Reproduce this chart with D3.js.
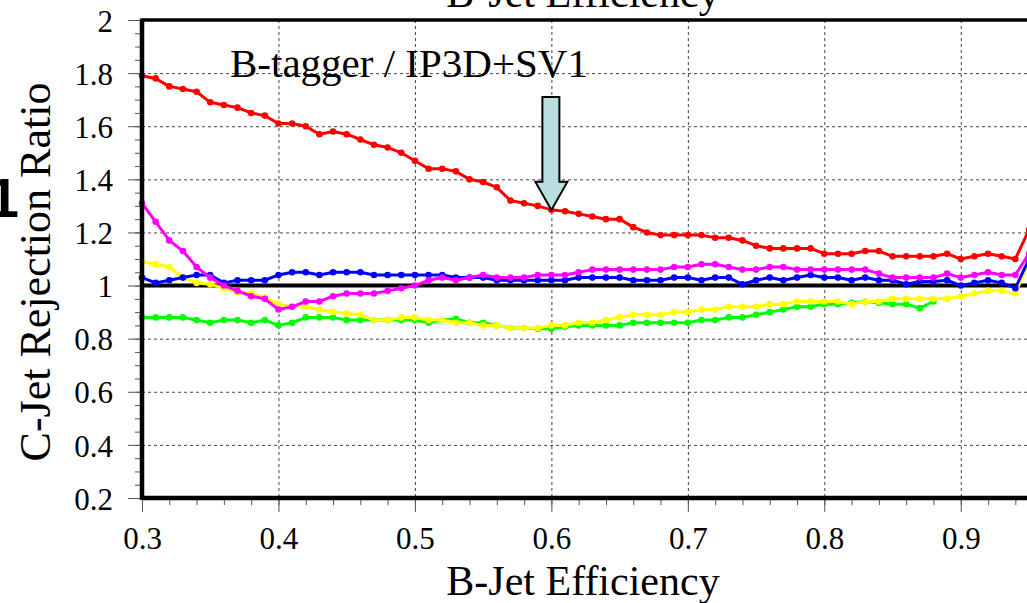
<!DOCTYPE html>
<html>
<head>
<meta charset="utf-8">
<script src="https://d3js.org/d3.v7.min.js"></script>
<style>
    body { margin: 0; background: #fff; }
    #chart-area svg { display: block; }
    #chart-area text { font-family: "Liberation Serif", "Times New Roman", serif; }
    #chart-area text.sans { font-family: "Liberation Sans", Arial, sans-serif; }
</style>
</head>
<body>
<div id="chart-area"></div>
<script>

// b-jet efficiency points (x)
let efficiency = [0.30, 0.31, 0.32, 0.33, 0.34, 0.35, 0.36, 0.37, 0.38, 0.39,
    0.40, 0.41, 0.42, 0.43, 0.44, 0.45, 0.46, 0.47, 0.48, 0.49,
    0.50, 0.51, 0.52, 0.53, 0.54, 0.55, 0.56, 0.57, 0.58, 0.59,
    0.60, 0.61, 0.62, 0.63, 0.64, 0.65, 0.66, 0.67, 0.68, 0.69,
    0.70, 0.71, 0.72, 0.73, 0.74, 0.75, 0.76, 0.77, 0.78, 0.79,
    0.80, 0.81, 0.82, 0.83, 0.84, 0.85, 0.86, 0.87, 0.88, 0.89,
    0.90, 0.91, 0.92, 0.93, 0.94, 0.95];

// c-jet rejection ratios, one list per curve
let redRatio = [1.79, 1.78, 1.75, 1.74, 1.73, 1.69, 1.68, 1.67, 1.65, 1.64,
    1.61, 1.61, 1.60, 1.57, 1.58, 1.57, 1.55, 1.53, 1.52, 1.50,
    1.47, 1.44, 1.44, 1.43, 1.40, 1.39, 1.37, 1.32, 1.31, 1.30,
    1.285, 1.28, 1.27, 1.26, 1.25, 1.25, 1.22, 1.20, 1.19, 1.19,
    1.19, 1.19, 1.18, 1.18, 1.17, 1.15, 1.14, 1.14, 1.14, 1.14,
    1.12, 1.12, 1.12, 1.13, 1.13, 1.11, 1.11, 1.11, 1.11, 1.12,
    1.10, 1.11, 1.12, 1.11, 1.10, 1.21];

let magentaRatio = [1.31, 1.24, 1.17, 1.13, 1.07, 1.03, 1.00, 0.98, 0.96, 0.95,
    0.91, 0.92, 0.94, 0.94, 0.96, 0.97, 0.97, 0.97, 0.98, 0.99,
    1.00, 1.02, 1.03, 1.02, 1.03, 1.04, 1.03, 1.03, 1.03, 1.04,
    1.04, 1.04, 1.05, 1.06, 1.06, 1.06, 1.06, 1.06, 1.06, 1.07,
    1.07, 1.08, 1.08, 1.07, 1.06, 1.06, 1.07, 1.07, 1.06, 1.06,
    1.06, 1.06, 1.06, 1.06, 1.045, 1.03, 1.03, 1.03, 1.03, 1.045,
    1.03, 1.04, 1.05, 1.04, 1.04, 1.12];

let blueRatio = [1.03, 1.01, 1.02, 1.03, 1.04, 1.04, 1.01, 1.02, 1.02, 1.02,
    1.04, 1.05, 1.05, 1.04, 1.05, 1.05, 1.05, 1.04, 1.04, 1.04,
    1.04, 1.04, 1.04, 1.03, 1.03, 1.03, 1.02, 1.02, 1.02, 1.02,
    1.02, 1.02, 1.03, 1.03, 1.03, 1.03, 1.02, 1.02, 1.02, 1.03,
    1.03, 1.02, 1.03, 1.03, 1.005, 1.02, 1.03, 1.02, 1.03, 1.04,
    1.03, 1.03, 1.02, 1.03, 1.02, 1.02, 1.005, 1.015, 1.015, 1.02,
    1.00, 1.01, 1.02, 1.01, 0.99, 1.10];

let yellowRatio = [1.09, 1.08, 1.07, 1.03, 1.01, 1.005, 0.99, 0.975, 0.97, 0.955,
    0.93, 0.92, 0.92, 0.91, 0.90, 0.895, 0.89, 0.87, 0.87, 0.88,
    0.88, 0.87, 0.87, 0.86, 0.86, 0.85, 0.85, 0.84, 0.84, 0.84,
    0.85, 0.85, 0.86, 0.86, 0.87, 0.88, 0.89, 0.89, 0.89, 0.90,
    0.90, 0.91, 0.91, 0.92, 0.92, 0.92, 0.93, 0.93, 0.94, 0.94,
    0.94, 0.94, 0.93, 0.94, 0.94, 0.95, 0.95, 0.95, 0.95, 0.95,
    0.96, 0.97, 0.98, 0.98, 0.97, 1.09];

// green stops at 0.88
let greenRatio = [0.88, 0.88, 0.88, 0.88, 0.87, 0.86, 0.87, 0.87, 0.86, 0.87,
    0.85, 0.86, 0.88, 0.88, 0.88, 0.87, 0.87, 0.87, 0.87, 0.87,
    0.87, 0.86, 0.87, 0.875, 0.86, 0.86, 0.85, 0.84, 0.84, 0.837,
    0.837, 0.845, 0.85, 0.85, 0.85, 0.85, 0.86, 0.86, 0.86, 0.86,
    0.86, 0.87, 0.87, 0.88, 0.88, 0.89, 0.90, 0.91, 0.92, 0.92,
    0.93, 0.93, 0.935, 0.94, 0.935, 0.93, 0.93, 0.915, 0.94];

let seriesNames = ["green", "yellow", "blue", "magenta", "red"];
let seriesValues = [greenRatio, yellowRatio, blueRatio, magentaRatio, redRatio];

let xTicks = [0.3, 0.4, 0.5, 0.6, 0.7, 0.8, 0.9];
let yTicks = [0.2, 0.4, 0.6, 0.8, 1, 1.2, 1.4, 1.6, 1.8, 2];

let annotationText = "B-tagger / IP3D+SV1";
let arrowAt = 0.60;


class RatioVis {
    constructor(parentElement) {
        this.parentElement = parentElement;
        this.initVis();
    }

    initVis() {
        let vis = this;

        vis.width = 1027;
        vis.height = 603;
        vis.margin = {top: 20, right: -2, bottom: 105, left: 142};

        vis.svg = d3.select("#" + vis.parentElement).append("svg")
            .attr("width", vis.width)
            .attr("height", vis.height);

        vis.x = d3.scaleLinear()
            .domain([0.3, 0.95])
            .range([vis.margin.left, vis.width - vis.margin.right]);

        vis.y = d3.scaleLinear()
            .domain([0.2, 2])
            .range([vis.height - vis.margin.bottom, vis.margin.top]);

        vis.colors = d3.scaleOrdinal()
            .domain(seriesNames)
            .range(["#00ff00", "#ffff00", "#0000ff", "#ff00ff", "#ff0000"]);

        vis.wrangleData();
    }

    wrangleData() {
        let vis = this;

        vis.displayData = seriesNames.map((name, i) => ({
            name: name,
            values: seriesValues[i].map((v, j) => ({eff: efficiency[j], ratio: v}))
        }));

        vis.updateVis();
    }

    updateVis() {
        let vis = this;
        let x0 = vis.x.range()[0], x1 = vis.x.range()[1];
        let y0 = vis.y.range()[0], y1 = vis.y.range()[1];

        // dashed grid
        vis.svg.append("g")
            .attr("class", "grid-x")
            .attr("transform", `translate(0, ${y1})`)
            .call(d3.axisBottom(vis.x)
                .tickValues(xTicks.filter(d => d > 0.3))
                .tickSize(y0 - y1)
                .tickFormat(""))
            .call(g => g.select(".domain").remove())
            .selectAll("line")
            .attr("stroke", "#444")
            .attr("stroke-dasharray", "3,3");

        vis.svg.append("g")
            .attr("class", "grid-y")
            .attr("transform", `translate(${x0}, 0)`)
            .call(d3.axisRight(vis.y)
                .tickValues(yTicks.filter(d => d !== 1 && d !== 2 && d !== 0.2))
                .tickSize(x1 - x0)
                .tickFormat(""))
            .call(g => g.select(".domain").remove())
            .selectAll("line")
            .attr("stroke", "#444")
            .attr("stroke-dasharray", "3,3");

        // minor ticks
        vis.svg.append("g")
            .attr("transform", `translate(${x0}, 0)`)
            .call(d3.axisLeft(vis.y).ticks(36).tickSize(7).tickFormat(""))
            .call(g => g.select(".domain").remove())
            .selectAll("line").attr("stroke", "#555");

        vis.svg.append("g")
            .attr("transform", `translate(0, ${y0})`)
            .call(d3.axisBottom(vis.x).tickValues(d3.range(30, 96, 2).map(d => d / 100)).tickSize(7).tickFormat(""))
            .call(g => g.select(".domain").remove())
            .selectAll("line").attr("stroke", "#555");

        // major ticks + labels
        let yAxis = vis.svg.append("g")
            .attr("class", "y-axis")
            .attr("transform", `translate(${x0}, 0)`)
            .call(d3.axisLeft(vis.y).tickValues(yTicks).tickSize(14).tickPadding(15).tickFormat(d3.format("")));
        yAxis.attr("font-family", null).attr("font-size", null);
        yAxis.select(".domain").remove();
        yAxis.selectAll("line").attr("stroke", "#555");
        yAxis.selectAll("text")
            .style("font-size", "31px")
            .attr("fill", "#000")
            .attr("dy", "0.36em");

        let xAxis = vis.svg.append("g")
            .attr("class", "x-axis")
            .attr("transform", `translate(0, ${y0})`)
            .call(d3.axisBottom(vis.x).tickValues(xTicks).tickSize(14).tickPadding(8).tickFormat(d3.format("")));
        xAxis.attr("font-family", null).attr("font-size", null);
        xAxis.select(".domain").remove();
        xAxis.selectAll("line").attr("stroke", "#555");
        xAxis.selectAll("text")
            .style("font-size", "31px")
            .attr("fill", "#000")
            .attr("dy", "0.95em");

        // reference line at ratio 1
        vis.svg.append("line")
            .attr("x1", x0).attr("x2", x1)
            .attr("y1", vis.y(1)).attr("y2", vis.y(1))
            .attr("stroke", "#000")
            .attr("stroke-width", 4);

        // curves
        let line = d3.line()
            .x(d => vis.x(d.eff))
            .y(d => vis.y(d.ratio));

        let curves = vis.svg.selectAll(".curve")
            .data(vis.displayData)
            .enter()
            .append("g")
            .attr("class", "curve");

        curves.append("path")
            .attr("d", d => line(d.values))
            .attr("fill", "none")
            .attr("stroke", d => vis.colors(d.name))
            .attr("stroke-width", 3)
            .attr("stroke-linejoin", "round");

        curves.selectAll("circle")
            .data(d => d.values.map(v => ({...v, name: d.name})))
            .enter()
            .append("circle")
            .attr("cx", d => vis.x(d.eff))
            .attr("cy", d => vis.y(d.ratio))
            .attr("r", 3.3)
            .attr("fill", d => vis.colors(d.name));

        // frame
        vis.svg.append("line")
            .attr("x1", x0).attr("x2", x1).attr("y1", y1).attr("y2", y1)
            .attr("stroke", "#000").attr("stroke-width", 3.5);
        vis.svg.append("line")
            .attr("x1", x0).attr("x2", x1).attr("y1", y0).attr("y2", y0)
            .attr("stroke", "#000").attr("stroke-width", 4.5);
        vis.svg.append("line")
            .attr("x1", x0).attr("x2", x0).attr("y1", y1 - 1.5).attr("y2", y0 + 2)
            .attr("stroke", "#000").attr("stroke-width", 4.5);
        vis.svg.append("line")
            .attr("x1", x1 - 1).attr("x2", x1 - 1).attr("y1", y1).attr("y2", y0)
            .attr("stroke", "#000").attr("stroke-width", 1);

        // arrow pointing at the red curve
        let tipX = vis.x(arrowAt);
        let tipY = vis.y(redRatio[efficiency.indexOf(arrowAt)]);
        let arrowPts = [
            [tipX - 9, 97], [tipX + 8, 97], [tipX + 8, tipY - 28], [tipX + 16, tipY - 28],
            [tipX, tipY], [tipX - 16, tipY - 28], [tipX - 9, tipY - 28]
        ];
        vis.svg.append("polygon")
            .attr("points", arrowPts.map(p => p.join(",")).join(" "))
            .attr("fill", "#b9dde0")
            .attr("stroke", "#000")
            .attr("stroke-width", 2);

        vis.svg.append("text")
            .attr("x", 230)
            .attr("y", 77)
            .style("font-size", "41px")
            .text(annotationText);

        // axis titles
        vis.svg.append("text")
            .attr("text-anchor", "middle")
            .attr("x", 583)
            .attr("y", 595)
            .style("font-size", "42px")
            .text("B-Jet Efficiency");

        // title cut off at the top
        vis.svg.append("text")
            .attr("text-anchor", "middle")
            .attr("x", 583)
            .attr("y", 7)
            .style("font-size", "42px")
            .text("B-Jet Efficiency");

        vis.svg.append("text")
            .attr("text-anchor", "middle")
            .attr("transform", "translate(50, 272) rotate(-90)")
            .style("font-size", "44px")
            .text("C-Jet Rejection Ratio");

        // stray slide number at the left edge
        vis.svg.append("text")
            .attr("class", "sans")
            .attr("text-anchor", "end")
            .attr("x", 19)
            .attr("y", 217)
            .style("font-weight", "bold")
            .style("font-size", "56px")
            .text("1");
    }
}

let ratioVis = new RatioVis("chart-area");

</script>
</body>
</html>
